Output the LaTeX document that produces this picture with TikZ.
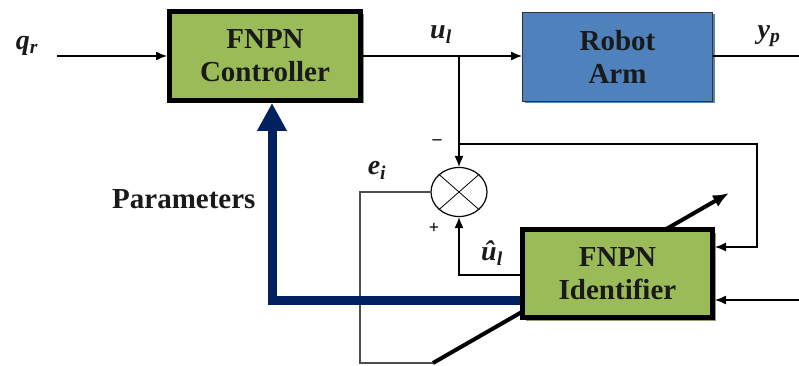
\documentclass[tikz,border=0pt]{standalone}
\usepackage{fontspec}
\setmainfont{Liberation Serif}
\usetikzlibrary{arrows.meta,shadows,shapes.geometric}
\definecolor{boxgreen}{HTML}{9BBB59}
\definecolor{boxblue}{HTML}{4F81BD}
\definecolor{navy}{HTML}{002060}
\definecolor{shadowgreen}{HTML}{8F9E73}
\definecolor{txt}{HTML}{1A1A1A}
\newcommand{\bi}[1]{\textbf{\textit{#1}}}
\tikzset{
  block/.style={rectangle, fill=boxgreen, draw=black, line width=5pt,
    align=center, text=txt, font=\fontsize{29}{33}\selectfont\bfseries,
    drop shadow={shadow xshift=3pt, shadow yshift=-3pt, fill=shadowgreen, opacity=1}},
  plant/.style={rectangle, fill=boxblue, draw=black!80, line width=1pt,
    align=center, text=txt, font=\fontsize{29}{33}\selectfont\bfseries,
    drop shadow={shadow xshift=2pt, shadow yshift=-2pt, fill=boxblue!75!gray, opacity=1}},
  wire/.style={draw=black, line width=1.3pt},
  arr/.style={wire, -{Latex[length=11pt,width=9pt]}},
  lbl/.style={font=\fontsize{28}{30}\selectfont, text=txt},
  sign/.style={font=\fontsize{18}{20}\selectfont\bfseries},
}
\begin{document}
\begin{tikzpicture}[x=1pt,y=-1pt]
\useasboundingbox (0,0) rectangle (799,366);

% adjustment arrow running behind the identifier block
\coordinate (adjfoot) at (433,363);
\coordinate (adjtip) at (729,193);
\draw[line width=4pt, -{Latex[length=16pt,width=13pt]}] (adjfoot) -- (adjtip);

% blocks
\node[block, minimum width=191pt, minimum height=89pt] (ctrl) at (265,56) {FNPN\\Controller};
\node[plant, minimum width=190pt, minimum height=89pt] (arm) at (617.5,57) {Robot\\Arm};
\node[ellipse, draw=black, line width=1.2pt, fill=white, minimum width=56pt, minimum height=49pt, inner sep=0pt] (sum) at (459,192) {};
\draw[line width=0.8pt] (sum.north west) -- (sum.south east) (sum.north east) -- (sum.south west);

% error path from the comparator to the foot of the adjustment arrow
\coordinate (ebend1) at (360,192);
\coordinate (ebend2) at (360,363);
\draw[draw=black!70, line width=1.3pt] (sum.west) -- (ebend1) -- (ebend2) -- (adjfoot);

% parameter update path (identifier to controller)
\coordinate (pbend) at (272,300);
\draw[navy, line width=9pt, -{Triangle[length=28pt,width=28pt]}]
  (520,300) -- (pbend) -- (pbend |- ctrl.south);

\node[block, minimum width=190pt, minimum height=88pt] (ident) at (617.5,273.5) {FNPN\\Identifier};

% forward path
\coordinate (qin) at (57,56);
\coordinate (junc) at (459,56);
\coordinate (yout) at (799,56);
\draw[arr] (qin) -- (ctrl.west |- qin);
\draw[wire] (ctrl.east |- junc) -- (junc);
\draw[arr] (junc) -- (arm.west |- junc);
\draw[wire] (arm.east |- yout) -- (yout);
\draw[arr] (junc) -- (sum.north);

% plant output fed back to the identifier
\coordinate (fb1) at (459,144);
\coordinate (fb2) at (757,144);
\coordinate (fb3) at (757,247);
\draw[arr] (fb1) -- (fb2) -- (fb3) -- (ident.east |- fb3);

% second identifier input
\coordinate (rin) at (799,300);
\draw[arr] (rin) -- (ident.east |- rin);

% identifier output to the comparator
\coordinate (uh) at (459,275);
\draw[arr] (ident.west |- uh) -- (uh) -- (sum.south);

% labels
\node[lbl] (lq) at (27,46) {\bi{q}\textsubscript{\bi{r}}};
\node[lbl] (lu) at (441,35) {\bi{u}\textsubscript{\bi{l}}};
\node[lbl] (ly) at (769,36) {\bi{y}\textsubscript{\bi{p}}};
\node[lbl] (le) at (377,170) {\bi{e}\textsubscript{\bi{i}}};
\node[lbl] (luh) at (492,253) {\bi{û}\textsubscript{\bi{l}}};
\node[sign] (lminus) at (437,142) {--};
\node[sign] (lplus) at (434,228) {+};
\node[font=\fontsize{29}{32}\selectfont\bfseries, text=txt, anchor=east] (lpar) at (259,199) {Parameters};
\end{tikzpicture}
\end{document}
